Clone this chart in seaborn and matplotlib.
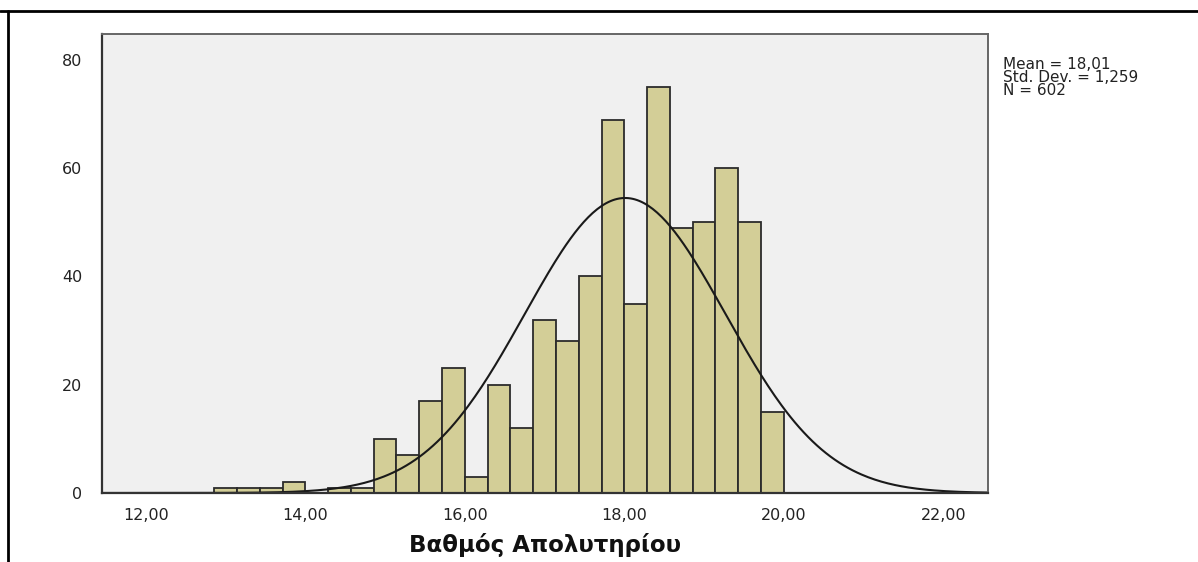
import numpy as np
import pandas as pd
import matplotlib
matplotlib.use("Agg")
import matplotlib.pyplot as plt
import seaborn as sns
from matplotlib.lines import Line2D

# ---- data ----
bin_width = 2 / 7
bin_start = 20 - 25 * bin_width          # 12.857
counts = [1, 1, 1, 2, 0, 1, 1, 10, 7, 17, 23, 3, 20, 12, 32, 28, 40, 69,
          35, 75, 49, 50, 60, 50, 15]
mean_val = 18.01
sd_val = 1.259
n_val = 602
x_ticks = [12, 14, 16, 18, 20, 22]
x_tick_labels = ["12,00", "14,00", "16,00", "18,00", "20,00", "22,00"]
y_ticks = [0, 20, 40, 60, 80]
x_label = "Βαθμός Απολυτηρίου"
stats_lines = ["Mean = 18,01", "Std. Dev. = 1,259", "N = 602"]

# ---- derived ----
edges = bin_start + bin_width * np.arange(len(counts) + 1)
centers = (edges[:-1] + edges[1:]) / 2
df = pd.DataFrame({"grade": centers, "count": counts})

sns.set_theme(style="white")
plt.rcParams["font.family"] = ["DejaVu Sans"]

fig = plt.figure(figsize=(11.98, 5.62), dpi=100)
ax = fig.add_axes([0.0851, 0.1228, 0.7396, 0.8167])
ax.set_facecolor("#F0F0F0")

sns.histplot(data=df, x="grade", weights="count", bins=len(counts),
             binrange=(float(edges[0]), float(edges[-1])), ax=ax,
             color="#D3CE97", edgecolor="#2b2b2b", linewidth=1.3, alpha=1.0)

xs = np.linspace(11.45, 22.56, 400)
pdf = np.exp(-0.5 * ((xs - mean_val) / sd_val) ** 2) / (sd_val * np.sqrt(2 * np.pi))
curve = pd.DataFrame({"x": xs, "y": pdf * n_val * bin_width})
sns.lineplot(data=curve, x="x", y="y", ax=ax, color="#1a1a1a", linewidth=1.5)

ax.set_xlim(11.45, 22.56)
ax.set_ylim(0, 84.8)
ax.set_xticks(x_ticks)
ax.set_xticklabels(x_tick_labels)
ax.set_yticks(y_ticks)
ax.set_yticklabels([str(v) for v in y_ticks])
ax.tick_params(axis="y", direction="out", length=11, width=1.5, color="#333333",
               labelsize=11.5, labelcolor="#222222", pad=3)
ax.tick_params(axis="x", direction="out", length=6, width=1.8, color="#333333",
               labelsize=11.5, labelcolor="#222222", pad=5)
ax.set_ylabel("")
ax.set_xlabel(x_label, fontsize=16.5, fontweight="bold", color="#111111", labelpad=7)
for side in ["left", "bottom"]:
    ax.spines[side].set_color("#333333")
    ax.spines[side].set_linewidth(1.6)
for side in ["top", "right"]:
    ax.spines[side].set_color("#666666")
    ax.spines[side].set_linewidth(1.4)

fig.text(0.837, 0.898, "\n".join(stats_lines), fontsize=11, color="#222222",
         ha="left", va="top", linespacing=0.8)

# frame lines at top and left of the picture
fig.add_artist(Line2D([0, 1], [1 - 11 / 562, 1 - 11 / 562], color="black",
                      linewidth=2, transform=fig.transFigure))
fig.add_artist(Line2D([8 / 1198, 8 / 1198], [0, 1 - 11 / 562], color="black",
                      linewidth=2, transform=fig.transFigure))

fig.savefig("out.png", dpi=100)
